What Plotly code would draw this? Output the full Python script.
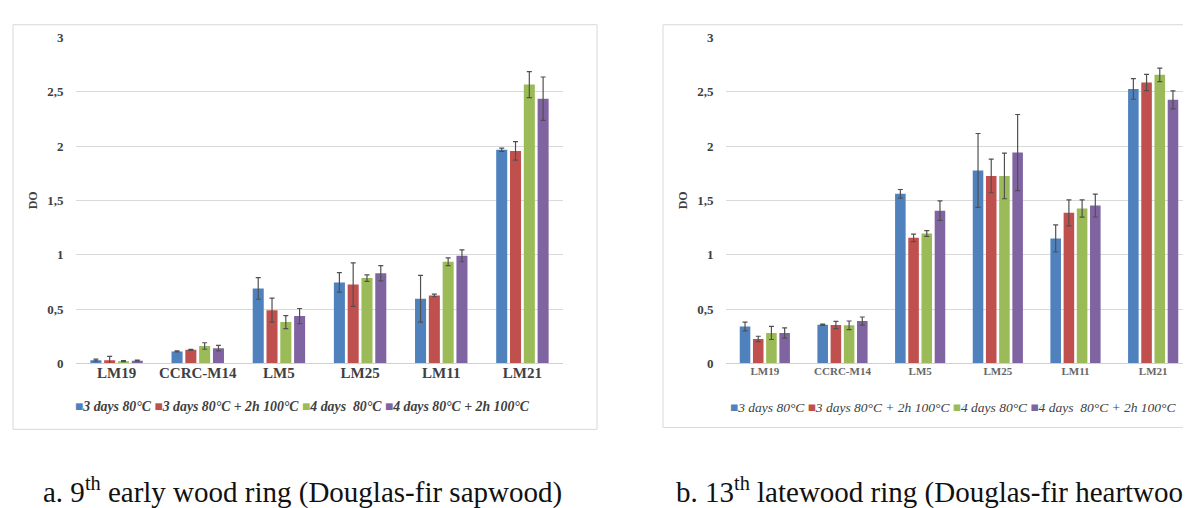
import plotly.graph_objects as go

# ---------------- data ----------------
categories = ["LM19", "CCRC-M14", "LM5", "LM25", "LM11", "LM21"]

series_a = ["3 days 80°C", "3 days 80°C + 2h 100°C", "4 days&nbsp; 80°C", "4 days 80°C + 2h 100°C"]
series_b = ["3 days 80°C", "3 days 80°C + 2h 100°C", "4 days 80°C", "4 days&nbsp; 80°C + 2h 100°C"]
colors = ["#4F81BD", "#C0504D", "#9BBB59", "#8064A2"]

# panel a: 9th early wood ring (Douglas-fir sapwood)
a_vals = [
    [0.03, 0.11, 0.69, 0.745, 0.595, 1.965],
    [0.03, 0.125, 0.49, 0.725, 0.625, 1.955],
    [0.02, 0.16, 0.38, 0.785, 0.935, 2.565],
    [0.025, 0.14, 0.435, 0.83, 0.99, 2.435],
]
a_errs = [
    [0.01, 0.005, 0.10, 0.09, 0.215, 0.015],
    [0.035, 0.005, 0.11, 0.20, 0.012, 0.085],
    [0.005, 0.03, 0.06, 0.03, 0.035, 0.12],
    [0.005, 0.025, 0.07, 0.07, 0.055, 0.20],
]

# panel b: 13th latewood ring (Douglas-fir heartwood)
b_vals = [
    [0.34, 0.356, 1.56, 1.775, 1.15, 2.525],
    [0.225, 0.353, 1.155, 1.725, 1.385, 2.585],
    [0.28, 0.35, 1.195, 1.725, 1.425, 2.655],
    [0.28, 0.39, 1.405, 1.94, 1.452, 2.425],
]
b_errs = [
    [0.04, 0.006, 0.04, 0.34, 0.125, 0.095],
    [0.025, 0.033, 0.035, 0.155, 0.12, 0.075],
    [0.06, 0.04, 0.027, 0.21, 0.08, 0.062],
    [0.047, 0.037, 0.09, 0.35, 0.105, 0.083],
]

y_ticks = [0, 0.5, 1, 1.5, 2, 2.5, 3]
y_ticktext = ["0", "0,5", "1", "1,5", "2", "2,5", "3"]
captions = ["a. 9<sup>th</sup> early wood ring (Douglas-fir sapwood)",
            "b. 13<sup>th</sup> latewood ring (Douglas-fir heartwood)"]

# ---------------- figure ----------------
W, H = 1191, 508
SERIF = "Liberation Serif"

def px_x(p):
    return p / W

def px_y(p):
    return 1 - p / H

fig = go.Figure()

for vals, errs, names, xa, ya in [(a_vals, a_errs, series_a, "x", "y"),
                                   (b_vals, b_errs, series_b, "x2", "y2")]:
    for v, e, n, c in zip(vals, errs, names, colors):
        fig.add_trace(go.Bar(
            x=categories, y=v, name=n.replace("&nbsp;", " "), marker_color=c,
            marker_line_width=0,
            error_y=dict(type="data", array=e, visible=True, color="#505050",
                         thickness=1.2, width=2.5),
            xaxis=xa, yaxis=ya, showlegend=False,
        ))

ydom = [px_y(359), px_y(23)]
common_y = dict(range=[0, 3], tickvals=y_ticks,
                ticktext=[f"<b>{t}</b>" for t in y_ticktext],
                showgrid=True, gridcolor="#d9d9d9", gridwidth=1,
                zeroline=False, showline=False,
                ticks="outside", ticklen=9, tickcolor="rgba(0,0,0,0)",
                tickfont=dict(family=SERIF, size=13, color="#404040"),
                title=dict(text="<b>DO</b>", font=dict(family=SERIF, size=12, color="#404040"),
                           standoff=6))
fig.update_layout(
    width=W, height=H,
    margin=dict(l=0, r=0, t=0, b=0),
    paper_bgcolor="white", plot_bgcolor="white",
    font=dict(family=SERIF),
    barmode="group", bargap=0.32, bargroupgap=0.2,
    xaxis=dict(domain=[px_x(68), px_x(555)], anchor="y",
               tickvals=categories, ticktext=[f"<b>{c}</b>" for c in categories],
               showline=True, linecolor="#d0d0d0", linewidth=1, ticks="",
               ticklabelstandoff=-4,
               tickfont=dict(family=SERIF, size=15, color="#404040")),
    yaxis=dict(domain=ydom, anchor="x", **common_y),
    xaxis2=dict(domain=[px_x(718), px_x(1184)], anchor="y2",
                tickvals=categories, ticktext=[f"<b>{c}</b>" for c in categories],
                showline=True, linecolor="#d0d0d0", linewidth=1, ticks="",
                ticklabelstandoff=-3,
                tickfont=dict(family=SERIF, size=11, color="#666666")),
    yaxis2=dict(domain=ydom, anchor="x2", **common_y),
)

# panel frames
fig.add_shape(type="rect", xref="paper", yref="paper",
              x0=px_x(5), x1=px_x(589), y0=px_y(427), y1=px_y(10),
              line=dict(color="#d9d9d9", width=1), fillcolor="rgba(0,0,0,0)", layer="below")
fig.add_shape(type="rect", xref="paper", yref="paper",
              x0=px_x(655), x1=px_x(1200), y0=px_y(425), y1=px_y(10),
              line=dict(color="#d9d9d9", width=1), fillcolor="rgba(0,0,0,0)", layer="below")

# legends (built from series names and colours)
def legend_text(names, bold):
    parts = []
    for n, c in zip(names, colors):
        label = f"<b><i>{n}</i></b>" if bold else f"<i>{n}</i>"
        parts.append(f"<span style=\"color:{c}\">■</span>{label}")
    return " ".join(parts)

fig.add_annotation(x=px_x(294), y=px_y(403), xref="paper", yref="paper",
                   xanchor="center", yanchor="middle",
                   text=legend_text(series_a, True), showarrow=False,
                   font=dict(family=SERIF, size=13.8, color="#404040"))
fig.add_annotation(x=px_x(945), y=px_y(404), xref="paper", yref="paper",
                   xanchor="center", yanchor="middle",
                   text=legend_text(series_b, False), showarrow=False,
                   font=dict(family=SERIF, size=13.5, color="#404040"))

# captions
fig.add_annotation(x=px_x(33), y=px_y(490), xref="paper", yref="paper",
                   xanchor="left", yanchor="middle",
                   text=captions[0], showarrow=False,
                   font=dict(family=SERIF, size=29, color="#111111"))
fig.add_annotation(x=px_x(666), y=px_y(490), xref="paper", yref="paper",
                   xanchor="left", yanchor="middle",
                   text=captions[1], showarrow=False,
                   font=dict(family=SERIF, size=29, color="#111111"))

fig.write_html("out.html")
